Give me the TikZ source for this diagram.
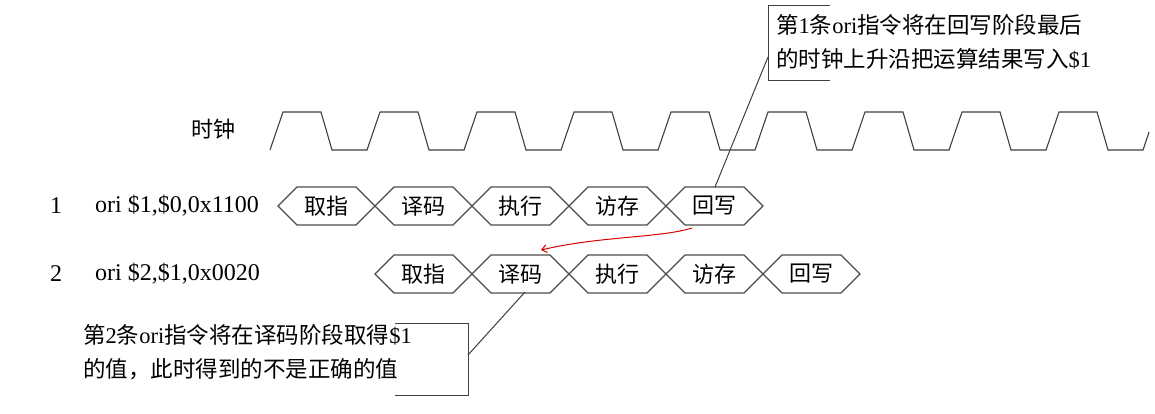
\documentclass[tikz,border=0pt]{standalone}
\usepackage{fontspec}
\setmainfont{Liberation Serif}
\newfontfamily\cjk{Noto Sans CJK SC}
\usetikzlibrary{arrows.meta}
\begin{document}
\begin{tikzpicture}[x=1pt,y=-1pt,
  wave/.style={draw=black!75,line width=1.1pt},
  hexline/.style={draw=black!70,line width=1.1pt},
  lbl/.style={font=\fontsize{24}{28}\selectfont,inner sep=0pt},
  hlbl/.style={font=\fontsize{22}{26}\selectfont,inner sep=0pt},
  note/.style={font=\fontsize{22.5}{34}\selectfont,align=left,inner sep=0pt,anchor=north west},
  lead/.style={draw=black!75,line width=1pt}]
\useasboundingbox (0,0) rectangle (1155,413);
\fill[white] (0,0) rectangle (1155,413);
% clock
\node[hlbl] (clk) at (213,129) {\cjk 时钟};
\draw[wave] (270,150)
  \foreach \i in {0,...,8}{ -- ++(13,-38) -- ++(38,0) -- ++(11,38) -- ++(35,0) } -- ++(6,-18);
% row labels
\node[lbl,anchor=west] (n1) at (50,206) {1};
\node[lbl,anchor=west] (i1) at (95,206) {ori \$1,\$0,0x1100};
\node[lbl,anchor=west] (n2) at (50,274) {2};
\node[lbl,anchor=west] (i2) at (95,274) {ori \$2,\$1,0x0020};
% pipelines
\foreach \row/\x/\y in {a/278/206, b/375/274}{
  \foreach \s [count=\k from 0] in {取指,译码,执行,访存,回写}{
    \pgfmathsetmacro\xl{\x+97*\k}
    \draw[hexline] (\xl,\y) -- (\xl+19,\y-19) -- (\xl+78,\y-19) -- (\xl+97,\y) -- (\xl+78,\y+19) -- (\xl+19,\y+19) -- cycle;
    \node[hlbl] (\row\k) at (\xl+48.5,\y) {\cjk \s};
  }
}
% callout 1
\draw[lead] (830,5) -- (768,5) -- (768,80) -- (830,80);
\node[note] (c1) at (776,14) {{\cjk 第}1{\cjk 条}ori{\cjk 指令将在回写阶段最后}\\{\cjk 的时钟上升沿把运算结果写入}\$1};
\coordinate (c1p) at (768,57);
\coordinate (a4b) at (715,187);
\draw[lead] (a4b) -- (c1p);
% callout 2
\draw[lead] (395,323) -- (468,323) -- (468,395) -- (395,395);
\node[note] (c2) at (83,324) {{\cjk 第}2{\cjk 条}ori{\cjk 指令将在译码阶段取得}\$1\\{\cjk 的值，此时得到的不是正确的值}};
\coordinate (c2p) at (468,355);
\coordinate (b1b) at (525,292);
\draw[lead] (c2p) -- (b1b);
% red arrow
\coordinate (r0) at (692,228);
\coordinate (r1) at (541,250);
\draw[red!85!black,line width=1pt,-{Straight Barb[length=5pt,width=8pt]}] (r0) .. controls (660,238) and (600,236) .. (r1);
\end{tikzpicture}
\end{document}
